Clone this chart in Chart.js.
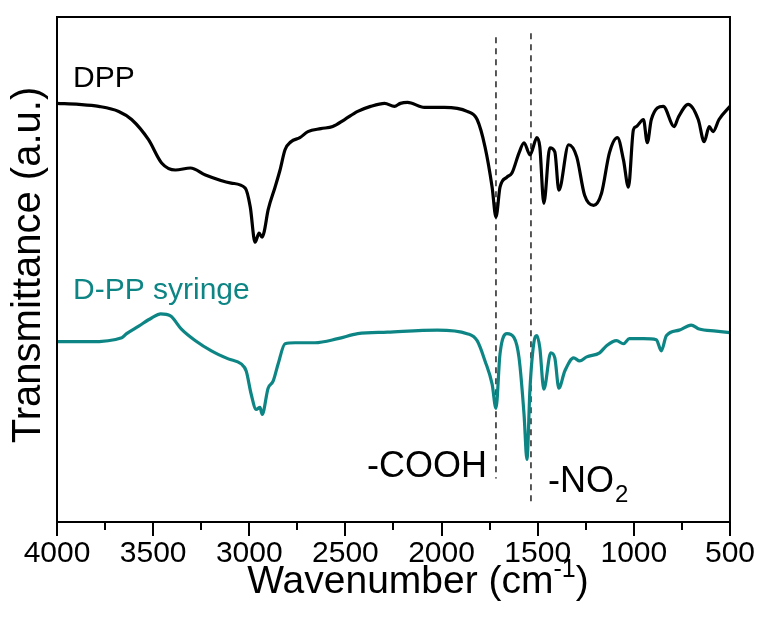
<!DOCTYPE html>
<html lang="en">
<head>
<meta charset="UTF-8">
<title>FTIR spectra</title>
<script src="https://cdn.jsdelivr.net/npm/chart.js"></script>
<style>
  body { margin: 0; background: #fff; }
</style>
</head>
<body>
<canvas id="ftirChart" width="765" height="623"></canvas>
<script>
// DPP spectrum
const dppWavenumber = [4000, 3886, 3783, 3679, 3612, 3524, 3456, 3384, 3306, 3228, 3094, 3021, 2995, 2970, 2949, 2933, 2923, 2902, 2866, 2840, 2814, 2783, 2737, 2695, 2628, 2566, 2504, 2436, 2369, 2296, 2245, 2214, 2177, 2089, 1986, 1867, 1815, 1774, 1737, 1717, 1696, 1660, 1634, 1597, 1571, 1540, 1504, 1489, 1468, 1437, 1411, 1390, 1339, 1297, 1256, 1209, 1168, 1127, 1085, 1054, 1028, 1002, 987, 950, 930, 909, 847, 790, 769, 717, 665, 634, 608, 588, 557, 500];
const dppTransmittance = [82.9, 82.7, 82.3, 81.3, 79.7, 75.7, 71.1, 69.7, 70.1, 68.7, 67.1, 66.1, 62.4, 55.4, 57.2, 56.4, 57.4, 61.8, 66.3, 69.7, 73.7, 75.3, 76.1, 77.3, 77.9, 78.3, 79.7, 81.3, 82.3, 82.9, 82.3, 82.9, 83.1, 82.1, 82.1, 81.3, 79.7, 74.3, 66.3, 60.4, 66.3, 68.3, 69.1, 73.1, 75.1, 72.7, 76.1, 74.3, 63.1, 74.1, 73.3, 65.7, 74.7, 72.3, 64.7, 62.7, 65.1, 73.1, 76.1, 71.7, 66.3, 77.7, 78.3, 79.7, 75.1, 79.7, 82.3, 78.3, 80.1, 82.7, 79.7, 75.3, 78.3, 77.3, 79.7, 82.3];

// D-PP syringe spectrum
const syringeWavenumber = [4000, 3834, 3663, 3638, 3575, 3508, 3461, 3410, 3353, 3280, 3197, 3109, 3042, 3016, 2990, 2964, 2944, 2933, 2902, 2876, 2850, 2814, 2762, 2659, 2540, 2436, 2281, 2022, 1867, 1815, 1774, 1737, 1717, 1696, 1660, 1623, 1597, 1571, 1556, 1540, 1520, 1504, 1489, 1468, 1432, 1411, 1390, 1359, 1313, 1282, 1245, 1178, 1142, 1090, 1054, 1023, 950, 883, 857, 831, 764, 702, 660, 572, 500];
const syringeTransmittance = [35.7, 35.7, 36.5, 37.3, 38.8, 40.4, 41.2, 40.8, 38.2, 35.9, 33.9, 32.3, 31.3, 29.9, 25.3, 22.3, 22.7, 21.3, 26.5, 27.9, 31.3, 35.3, 35.5, 35.5, 36.3, 37.3, 37.6, 38.0, 37.3, 35.9, 31.9, 27.3, 22.5, 33.3, 37.3, 36.5, 32.5, 21.3, 12.4, 26.5, 35.5, 36.9, 34.5, 26.3, 33.5, 32.5, 26.5, 29.9, 32.5, 31.9, 32.7, 33.5, 34.9, 35.9, 35.3, 36.3, 36.3, 36.1, 33.9, 36.9, 38.0, 39.0, 38.2, 37.8, 37.5];

// band markers (-COOH, -NO2)
const markerWavenumber = [1717, 1535];
const markerTop = [96.0, 96.8];
const markerBottom = [8.6, 4.0];

const FONT = '"Liberation Sans", Arial, sans-serif';
const TEAL = '#0e8585';

const toPoints = (xs, ys) => xs.map((x, i) => ({ x: x, y: ys[i] }));

const markerSets = markerWavenumber.map((w, i) => ({
  data: [{ x: w, y: markerTop[i] }, { x: w, y: markerBottom[i] }],
  borderColor: '#222',
  borderWidth: 1.5,
  borderDash: [6, 5],
  pointRadius: 0
}));

// frame, tick marks, titles and annotations
const decor = {
  id: 'decor',
  afterDraw(chart) {
    const { ctx, chartArea: a, scales: { x } } = chart;
    ctx.save();
    ctx.strokeStyle = '#000';
    ctx.lineWidth = 2;
    ctx.strokeRect(a.left, a.top, a.right - a.left, a.bottom - a.top);
    x.ticks.forEach(t => {
      const px = Math.round(x.getPixelForValue(t.value));
      const len = t.value % 500 === 0 ? 14 : 8;
      ctx.beginPath();
      ctx.moveTo(px, a.bottom);
      ctx.lineTo(px, a.bottom + len);
      ctx.stroke();
    });

    ctx.fillStyle = '#000';
    ctx.textBaseline = 'alphabetic';
    ctx.textAlign = 'left';
    ctx.font = '30px ' + FONT;
    ctx.fillText('DPP', 73, 87);
    ctx.fillStyle = TEAL;
    ctx.fillText('D-PP syringe', 73, 299);

    ctx.fillStyle = '#000';
    ctx.font = '36px ' + FONT;
    ctx.fillText('-COOH', 367, 477);
    ctx.fillText('-NO', 548, 492);
    const noW = ctx.measureText('-NO').width;
    ctx.font = '24px ' + FONT;
    ctx.fillText('2', 548 + noW + 1, 502);

    // x title with superscript
    ctx.font = '39px ' + FONT;
    const p1 = 'Wavenumber (cm';
    const w1 = ctx.measureText(p1).width;
    ctx.font = '25px ' + FONT;
    const sup = '-1';
    const w2 = ctx.measureText(sup).width;
    ctx.font = '39px ' + FONT;
    const w3 = ctx.measureText(')').width;
    const sx = 418 - (w1 + w2 + w3) / 2;
    const base = 593;
    ctx.fillText(p1, sx, base);
    ctx.font = '25px ' + FONT;
    ctx.fillText(sup, sx + w1, base - 16);
    ctx.font = '39px ' + FONT;
    ctx.fillText(')', sx + w1 + w2, base);

    // y title
    ctx.font = '40px ' + FONT;
    ctx.translate(29, 265);
    ctx.rotate(-Math.PI / 2);
    ctx.textAlign = 'center';
    ctx.textBaseline = 'middle';
    ctx.fillText('Transmittance (a.u.)', 0, 0);
    ctx.restore();
  }
};

new Chart(document.getElementById('ftirChart'), {
  type: 'line',
  data: {
    datasets: [
      {
        label: 'DPP',
        data: toPoints(dppWavenumber, dppTransmittance),
        borderColor: '#000',
        borderWidth: 3.2,
        pointRadius: 0,
        cubicInterpolationMode: 'monotone'
      },
      {
        label: 'D-PP syringe',
        data: toPoints(syringeWavenumber, syringeTransmittance),
        borderColor: TEAL,
        borderWidth: 3.2,
        pointRadius: 0,
        cubicInterpolationMode: 'monotone'
      },
      ...markerSets
    ]
  },
  options: {
    responsive: false,
    devicePixelRatio: 1,
    animation: false,
    layout: { padding: { left: 0, right: 32, top: 17, bottom: 0 } },
    plugins: { legend: { display: false }, tooltip: { enabled: false } },
    scales: {
      x: {
        type: 'linear',
        reverse: true,
        min: 500,
        max: 4000,
        grid: { drawOnChartArea: false, drawTicks: true, tickLength: 4, tickColor: 'rgba(0,0,0,0)' },
        border: { display: false },
        ticks: {
          stepSize: 250,
          autoSkip: false,
          maxRotation: 0,
          padding: 10,
          color: '#000',
          font: { family: FONT, size: 30 },
          callback: v => (v % 500 === 0 ? String(v) : '')
        },
        afterFit: s => { s.height = 101; }
      },
      y: {
        min: 0,
        max: 100,
        grid: { display: false },
        border: { display: false },
        ticks: { display: false },
        afterFit: s => { s.width = 57; }
      }
    }
  },
  plugins: [decor]
});
</script>
</body>
</html>
